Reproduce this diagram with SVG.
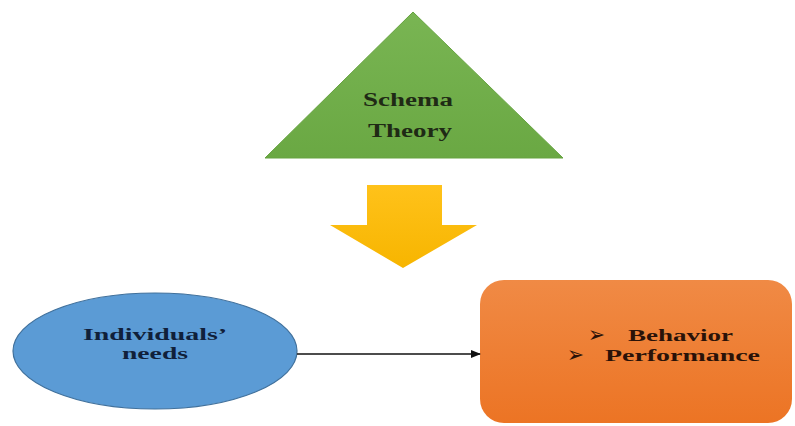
<svg xmlns="http://www.w3.org/2000/svg" width="795" height="426" viewBox="0 0 795 426">
<defs>
<linearGradient id="gGreen" x1="0" y1="0" x2="0" y2="1"><stop offset="0" stop-color="#79b553"/><stop offset="1" stop-color="#6aa843"/></linearGradient>
<linearGradient id="gYellow" x1="0" y1="0" x2="0" y2="1"><stop offset="0" stop-color="#ffc21a"/><stop offset="1" stop-color="#f7b500"/></linearGradient>
<linearGradient id="gOrange" x1="0" y1="0" x2="0" y2="1"><stop offset="0" stop-color="#f08a45"/><stop offset="1" stop-color="#ec7424"/></linearGradient>
<marker id="ah" markerWidth="10" markerHeight="8" refX="9" refY="4" orient="auto" markerUnits="userSpaceOnUse"><path d="M0,0 L10,4 L0,8 Z" fill="#111"/></marker>
<style>
.lbl{font-family:"Liberation Serif","Times New Roman",serif;font-weight:bold;font-size:18px}
.sm{font-size:16.5px}
.bul{font-family:"DejaVu Sans",sans-serif;font-size:22px}
.conn{stroke:#111;stroke-width:1.3;fill:none}
</style>
</defs>
<rect width="795" height="426" fill="#fff"/>
<g id="schema-theory">
<polygon points="413,12 563,158 265,158" fill="url(#gGreen)" stroke="#66a340" stroke-width="1"/>
<text class="lbl" x="363" y="106" fill="#1f2a15" textLength="90" lengthAdjust="spacingAndGlyphs">Schema</text>
<text class="lbl" x="368" y="137" fill="#1f2a15" textLength="84" lengthAdjust="spacingAndGlyphs">Theory</text>
</g>
<g id="down-arrow">
<polygon points="367,185 442,185 442,225 477,225 403,268 330,225 367,225" fill="url(#gYellow)"/>
</g>
<g id="individuals-needs">
<ellipse cx="155" cy="351" rx="142" ry="58" fill="#5b9bd5" stroke="#41719c" stroke-width="1.2"/>
<text class="lbl sm" x="83" y="340" fill="#10203a" textLength="144" lengthAdjust="spacingAndGlyphs">Individuals’</text>
<text class="lbl sm" x="122" y="359" fill="#10203a" textLength="66" lengthAdjust="spacingAndGlyphs">needs</text>
</g>
<g id="outcomes">
<rect x="480" y="280" width="312" height="143" rx="24" ry="24" fill="url(#gOrange)"/>
<text class="bul" x="588" y="342" fill="#2a1208" textLength="17" lengthAdjust="spacingAndGlyphs">➢</text>
<text class="lbl sm" x="628" y="341" fill="#2a1208" textLength="105" lengthAdjust="spacingAndGlyphs">Behavior</text>
<text class="bul" x="567" y="362" fill="#2a1208" textLength="17" lengthAdjust="spacingAndGlyphs">➢</text>
<text class="lbl sm" x="605" y="361" fill="#2a1208" textLength="155" lengthAdjust="spacingAndGlyphs">Performance</text>
</g>
<g id="connectors">
<line class="conn" x1="297" y1="354" x2="480" y2="354" marker-end="url(#ah)"/>
</g>
</svg>
